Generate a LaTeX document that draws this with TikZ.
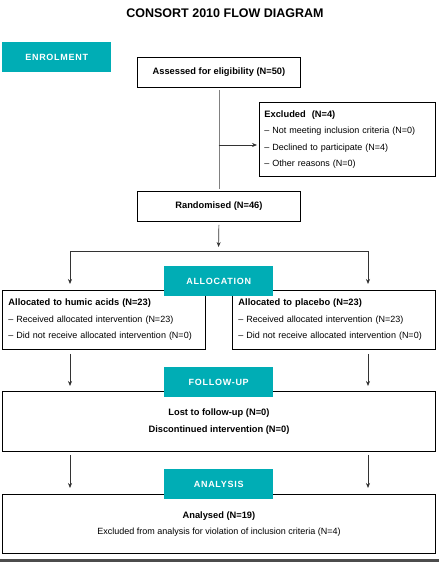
\documentclass[tikz,border=0pt]{standalone}
\usepackage{fontspec}
\setmainfont{Liberation Sans}
\usetikzlibrary{arrows.meta}
\definecolor{tealbox}{HTML}{00ADB5}
\definecolor{conngray}{HTML}{333333}
\definecolor{linegray}{HTML}{808080}
\newcommand{\hd}[1]{{\bfseries\fontsize{9.3}{16.5}\selectfont #1}}
\begin{document}
\begin{tikzpicture}[x=1pt,y=-1pt,
  box/.style={draw=black, line width=0.9pt, inner sep=0pt, anchor=north west,
    font=\fontsize{9}{16.5}\selectfont},
  phase/.style={fill=tealbox, text=white, inner sep=0pt, anchor=north west,
    minimum width=109pt, minimum height=30pt,
    font=\bfseries\fontsize{9}{10}\selectfont\addfontfeature{LetterSpace=8}},
  conn/.style={draw=conngray, line width=0.7pt},
  arr/.style={conn, -{Stealth[length=5pt,width=4pt]}},
  titlestyle/.style={font=\bfseries\fontsize{12.5}{14}\selectfont, inner sep=0pt}
]
\useasboundingbox (0,0) rectangle (439,562);

\node[titlestyle] (title) at (225,13) {CONSORT 2010 FLOW DIAGRAM};

% boxes
\node[box, minimum width=163pt, minimum height=30pt] (assess) at (137,57) {\hd{Assessed for eligibility (N=50)}};
\node[box, minimum width=176pt, minimum height=74pt, text width=166pt, inner xsep=5pt, align=left] (excl) at (259,102)
  {\hd{Excluded\ \ (N=4)}\\– Not meeting inclusion criteria (N=0)\\– Declined to participate (N=4)\\– Other reasons (N=0)};
\node[box, minimum width=163pt, minimum height=30pt] (rand) at (137,191) {\hd{Randomised (N=46)}};
\node[box, minimum width=203pt, minimum height=59pt, text width=191pt, inner xsep=6pt, align=left] (left) at (2,290)
  {\hd{Allocated to humic acids (N=23)}\\– Received allocated intervention (N=23)\\– Did not receive allocated intervention (N=0)};
\node[box, minimum width=203pt, minimum height=59pt, text width=191pt, inner xsep=6pt, align=left] (right) at (232,290)
  {\hd{Allocated to placebo (N=23)}\\– Received allocated intervention (N=23)\\– Did not receive allocated intervention (N=0)};
\node[box, minimum width=433pt, minimum height=60pt, align=center] (fu) at (2,391)
  {\hd{Lost to follow-up (N=0)}\\\hd{Discontinued intervention (N=0)}};
\node[box, minimum width=433pt, minimum height=59pt, align=center] (an) at (2,494)
  {\hd{Analysed (N=19)}\\Excluded from analysis for violation of inclusion criteria (N=4)};

% connectors
\coordinate (exc) at (218.5,145);
\coordinate (split) at (218.5,251);
\coordinate (lcol) at (70,251);
\coordinate (rcol) at (368,251);
\draw[conn, draw=linegray] ([yshift=-2pt]assess.south) -- ([yshift=2pt]rand.north);
\draw[arr] (exc) -- ([xshift=-2pt]excl.west |- exc);
\draw[arr, shorten <=3pt, shorten >=4pt] (rand.south) -- (split);
\draw[arr, shorten >=6pt] (split) -| (lcol |- left.north);
\draw[arr, shorten >=6pt] (split) -| (rcol |- right.north);
\draw[arr, shorten <=4pt, shorten >=5pt] (lcol |- left.south) -- (lcol |- fu.north);
\draw[arr, shorten <=4pt, shorten >=5pt] (rcol |- right.south) -- (rcol |- fu.north);
\draw[arr, shorten <=3pt, shorten >=6pt] (lcol |- fu.south) -- (lcol |- an.north);
\draw[arr, shorten <=3pt, shorten >=6pt] (rcol |- fu.south) -- (rcol |- an.north);

% phase labels
\node[phase] (enrol) at (2,42) {ENROLMENT};
\node[phase] (alloc) at (164,266) {ALLOCATION};
\node[phase] (follow) at (164,367) {FOLLOW-UP};
\node[phase] (analysis) at (164,469) {ANALYSIS};

% bottom rule
\fill[black!70] (0,559) rectangle (439,562);
\end{tikzpicture}
\end{document}
